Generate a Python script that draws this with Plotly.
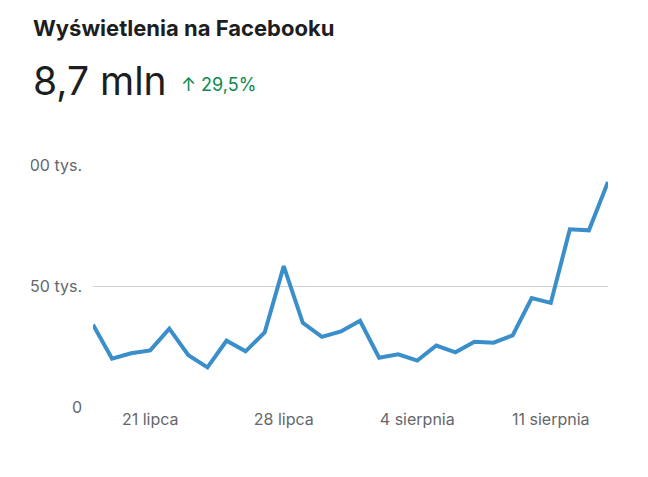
import pandas as pd
import plotly.graph_objects as go

dates = pd.date_range("2024-07-18", "2024-08-14", freq="D")
views = [170, 100, 111, 117, 162, 107, 82, 137, 115, 154, 291, 174, 145, 156,
         178, 102, 109, 96, 127, 113, 135, 133, 148, 225, 215, 367, 365, 465]
views = [v * 1000 for v in views]

tick_dates = ["2024-07-21", "2024-07-28", "2024-08-04", "2024-08-11"]
tick_labels = ["21 lipca", "28 lipca", "4 sierpnia", "11 sierpnia"]
y_ticks = [0, 250000, 500000]
y_labels = ["0", "250 tys.", "500 tys."]

fig = go.Figure()
fig.add_trace(go.Scatter(
    x=dates, y=views, mode="lines",
    line=dict(color="#3a8ec9", width=4),
    hoverinfo="skip"
))

font = "Inter, Noto Sans, sans-serif"
fig.update_layout(
    width=648, height=477,
    margin=dict(l=80, r=48, t=156, b=77),
    paper_bgcolor="white", plot_bgcolor="white",
    showlegend=False,
    font=dict(family=font, color="#65676b", size=16),
    xaxis=dict(
        range=[dates[0], dates[-1]],
        tickvals=tick_dates, ticktext=tick_labels,
        showgrid=False, zeroline=False, showline=False, ticks="",
    ),
    yaxis=dict(
        range=[-2000, 502000],
        tickvals=y_ticks, ticktext=y_labels,
        showgrid=True, gridcolor="#cfd1d4", gridwidth=1,
        zeroline=False, ticks="", ticklabelstandoff=10,
    ),
    shapes=[dict(type="rect", xref="paper", yref="paper", layer="above",
                 x0=-88 / 520, x1=-63 / 520, y0=-0.1, y1=1.1,
                 fillcolor="white", line=dict(width=0))],
    annotations=[
        dict(text="<b>Wyświetlenia na Facebooku</b>", xref="paper", yref="paper",
             x=-63 / 520, y=1 + 136 / 244, xanchor="left", yanchor="middle",
             showarrow=False, font=dict(size=22, color="#1c1e21", family=font)),
        dict(text="8,7 mln", xref="paper", yref="paper",
             x=-63 / 520, y=1 + 84 / 244, xanchor="left", yanchor="middle",
             showarrow=False, font=dict(size=39, color="#1c1e21", family=font)),
        dict(text="↑ 29,5%", xref="paper", yref="paper",
             x=87 / 520, y=1 + 80 / 244, xanchor="left", yanchor="middle",
             showarrow=False, font=dict(size=18, color="#0b8a4f", family=font)),
    ],
)

fig.write_html("out.html")
